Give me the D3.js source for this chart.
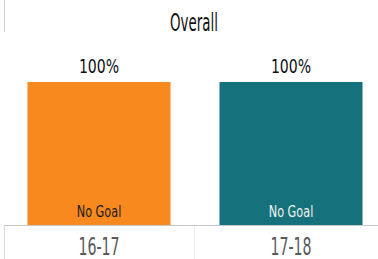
<!DOCTYPE html>
<html>
<head>
<meta charset="utf-8">
<script src="https://cdn.jsdelivr.net/npm/d3@7"></script>
<style>
    body { margin: 0; background: #fff; }
    text { font-family: "DejaVu Sans Condensed", "DejaVu Sans", sans-serif; }
</style>
</head>
<body>
<div id="chart"></div>
<script>
// data
const categories = ["16-17", "17-18"];
const values = [1.0, 1.0];
const segLabels = ["No Goal", "No Goal"];
const barColors = ["#F7891F", "#15727C"];
const segTextColors = ["#1a1a1a", "#f2f2f2"];

const width = 378, height = 259;

const svg = d3.select("#chart").append("svg")
    .attr("width", width)
    .attr("height", height);

// the original face is a tall narrow one, so squeeze the text horizontally
function squeeze(sel, k) {
    sel.each(function () {
        const len = this.getComputedTextLength();
        d3.select(this)
            .attr("textLength", len * k)
            .attr("lengthAdjust", "spacingAndGlyphs");
    });
}

// scales
const x = d3.scaleBand()
    .domain(categories)
    .range([3, 387])
    .paddingInner(0.255)
    .paddingOuter(0.1275);

const y = d3.scaleLinear()
    .domain([0, 1])
    .range([225, 82]);

// frame lines
svg.append("line")
    .attr("x1", 4.5).attr("x2", 4.5)
    .attr("y1", 0).attr("y2", 32)
    .attr("stroke", "#d0d0d0").attr("stroke-width", 1);

svg.append("line")
    .attr("x1", 4.5).attr("x2", 4.5)
    .attr("y1", 225).attr("y2", height)
    .attr("stroke", "#d9d9d9").attr("stroke-width", 1);

svg.append("line")
    .attr("x1", 194.5).attr("x2", 194.5)
    .attr("y1", 225).attr("y2", height)
    .attr("stroke", "#eeeeee").attr("stroke-width", 1);

// title
svg.append("text")
    .attr("x", 194)
    .attr("y", 31)
    .attr("text-anchor", "middle")
    .attr("font-size", 24)
    .attr("fill", "#111")
    .text("Overall")
    .call(squeeze, 0.62);

// bars
svg.selectAll(".bar")
    .data(categories)
    .enter().append("rect")
    .attr("class", "bar")
    .attr("x", d => x(d))
    .attr("width", x.bandwidth())
    .attr("y", (d, i) => y(values[i]))
    .attr("height", (d, i) => y(0) - y(values[i]))
    .attr("fill", (d, i) => barColors[i]);

// value labels
svg.selectAll(".val")
    .data(categories)
    .enter().append("text")
    .attr("class", "val")
    .attr("x", d => x(d) + x.bandwidth() / 2)
    .attr("y", (d, i) => y(values[i]) - 9)
    .attr("text-anchor", "middle")
    .attr("font-size", 20)
    .attr("fill", "#111")
    .text((d, i) => d3.format(".0%")(values[i]))
    .call(squeeze, 0.78);

// segment labels
svg.selectAll(".seg")
    .data(categories)
    .enter().append("text")
    .attr("class", "seg")
    .attr("x", d => x(d) + x.bandwidth() / 2)
    .attr("y", y(0) - 8)
    .attr("text-anchor", "middle")
    .attr("font-size", 16.5)
    .attr("fill", (d, i) => segTextColors[i])
    .text((d, i) => segLabels[i])
    .call(squeeze, 0.76);

// x axis
const xAxis = d3.axisBottom(x).tickSize(0).tickPadding(0);
const gx = svg.append("g")
    .attr("transform", "translate(0,225)")
    .call(xAxis);
gx.select(".domain").remove();
gx.selectAll("text")
    .attr("y", 30)
    .attr("dy", null)
    .attr("fill", "#595959")
    .style("font-size", "25px")
    .style("font-family", "\"DejaVu Sans Condensed\", \"DejaVu Sans\", sans-serif")
    .call(squeeze, 0.63);

svg.append("line")
    .attr("x1", 4).attr("x2", width)
    .attr("y1", 225.5).attr("y2", 225.5)
    .attr("stroke", "#c8c8c8").attr("stroke-width", 1);
</script>
</body>
</html>
